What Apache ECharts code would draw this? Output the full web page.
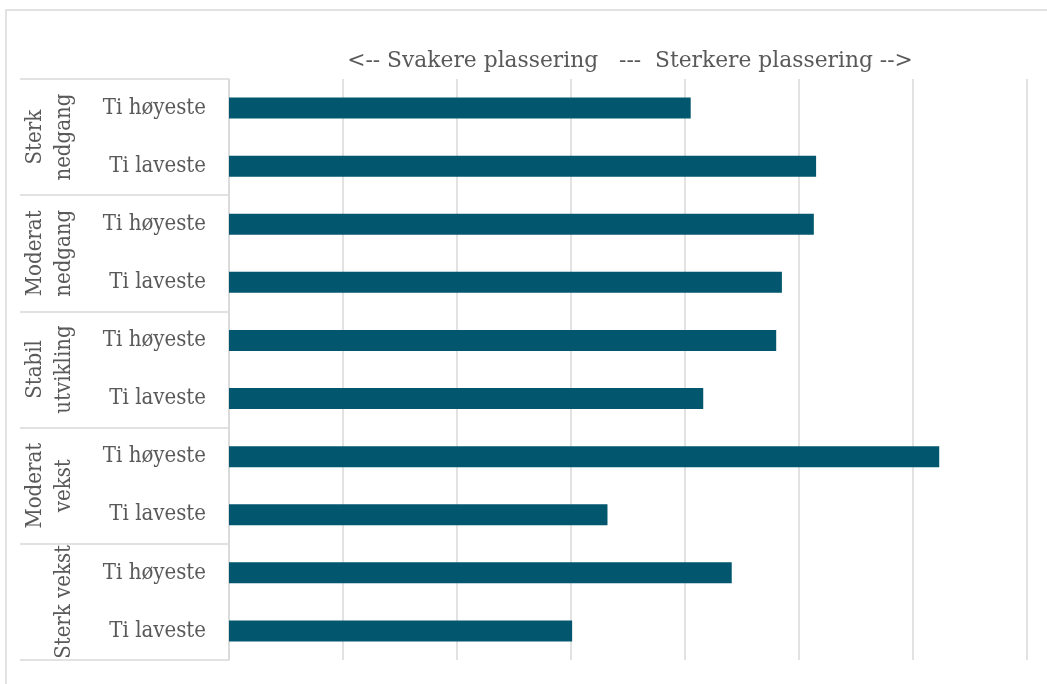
<!DOCTYPE html>
<html>
<head>
<meta charset="utf-8">
<style>
  html, body { margin: 0; padding: 0; background: #ffffff; }
  #chart { width: 1047px; height: 684px; }
</style>
<script src="https://cdn.jsdelivr.net/npm/echarts@6/dist/echarts.min.js"></script>
</head>
<body>
<div id="chart"></div>
<script>
const titleText = "<-- Svakere plassering   ---  Sterkere plassering -->";
const groups = ["Sterk\nnedgang", "Moderat\nnedgang", "Stabil\nutvikling", "Moderat\nvekst", "Sterk vekst"];
const subLabels = ["Ti høyeste", "Ti laveste", "Ti høyeste", "Ti laveste", "Ti høyeste", "Ti laveste", "Ti høyeste", "Ti laveste", "Ti høyeste", "Ti laveste"];
const values = [4.05, 5.15, 5.13, 4.85, 4.80, 4.16, 6.23, 3.32, 4.41, 3.01];
const xTicks = [0, 7, 1];

const FONT = "'DejaVu Serif Condensed', 'DejaVu Serif', serif";
const TFONT = "'DejaVu Serif', serif";
const TXT = "#595959";
const GRID = "#d9d9d9";

const chart = echarts.init(document.getElementById('chart'), null, { renderer: 'canvas' });
chart.setOption({
  animation: false,
  backgroundColor: '#ffffff',
  title: {
    text: titleText,
    left: 625,
    textAlign: 'center',
    top: 45,
    textStyle: { fontFamily: TFONT, fontSize: 21.8, fontWeight: 'normal', color: TXT }
  },
  graphic: [{
    type: 'rect',
    shape: { x: 6, y: 10, width: 1200, height: 800 },
    style: { fill: 'none', stroke: GRID, lineWidth: 1.5 },
    silent: true
  }],
  grid: { left: 229, right: 20, top: 79, bottom: 24, containLabel: false },
  xAxis: {
    type: 'value',
    min: xTicks[0], max: xTicks[1], interval: xTicks[2],
    axisLabel: { show: false },
    axisTick: { show: false },
    axisLine: { show: false },
    splitLine: { show: true, lineStyle: { color: GRID, width: 1.5 } }
  },
  yAxis: [{
    type: 'category',
    inverse: true,
    data: subLabels.map((s, i) => ({ value: i + ':' + s })),
    position: 'left',
    axisLine: { show: true, lineStyle: { color: GRID, width: 1.5 } },
    axisTick: { show: false },
    axisLabel: {
      margin: 23,
      fontFamily: FONT, fontSize: 22, color: TXT,
      formatter: v => v.slice(v.indexOf(':') + 1)
    }
  }, {
    type: 'category',
    inverse: true,
    data: groups,
    position: 'left',
    offset: 0,
    axisLine: { show: false },
    axisTick: { show: true, length: 209, lineStyle: { color: GRID, width: 1.5 } },
    axisLabel: {
      rotate: 90,
      margin: 150,
      interval: 0,
      fontFamily: FONT, fontSize: 22, color: TXT,
      lineHeight: 29
    }
  }],
  series: [{
    type: 'bar',
    yAxisIndex: 0,
    data: values,
    barWidth: 21,
    itemStyle: { color: '#02566E' },
    silent: true
  }]
});
</script>
</body>
</html>
